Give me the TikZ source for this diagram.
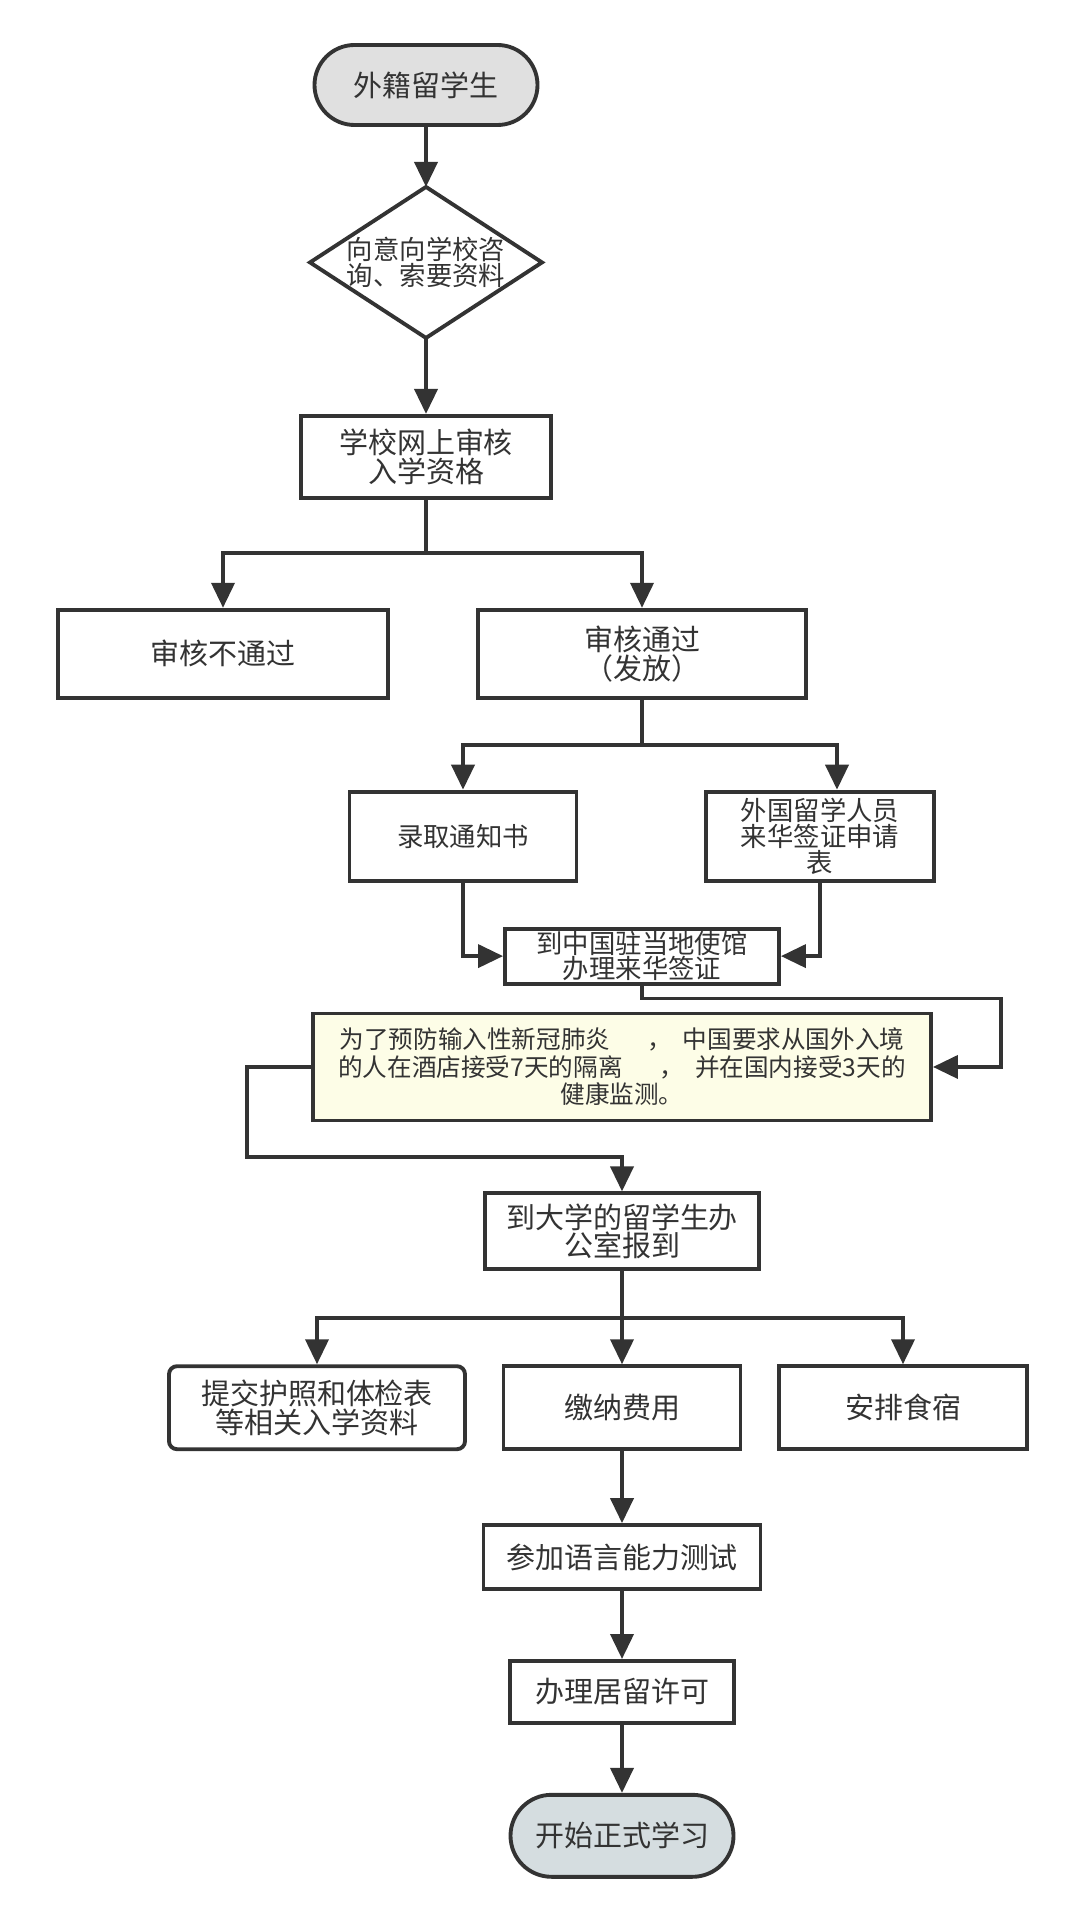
\documentclass[tikz,border=0pt]{standalone}
\usepackage{fontspec}
\setmainfont{Noto Sans CJK SC}
\usepackage{xcolor}
\usepackage{tikz}
\usetikzlibrary{arrows.meta, positioning}

\definecolor{linegray}{HTML}{333333}
\definecolor{startgray}{HTML}{E0E0E0}
\definecolor{endgray}{HTML}{D5DDE0}
\definecolor{noteyellow}{HTML}{FDFDE7}

\newcommand{\boxfont}{\fontsize{16.5pt}{16.4pt}\selectfont}
\newcommand{\formfont}{\fontsize{15pt}{14.8pt}\selectfont}
\newcommand{\visafont}{\fontsize{15pt}{14.2pt}\selectfont}
\newcommand{\notefont}{\fontsize{14pt}{15.6pt}\selectfont}

\begin{document}
\begin{tikzpicture}[
  box/.style={rectangle, draw=linegray, line width=2.2pt, fill=white, text=linegray,
              align=center, font=\boxfont, inner sep=2pt},
  terminal/.style={box, rounded corners=0.8cm, minimum width=4.46cm, minimum height=1.6cm},
  decision/.style={rectangle, minimum width=4.64cm, minimum height=3.02cm, inner sep=0pt,
              outer sep=0pt, text=linegray, align=center, font=\formfont},
  note/.style={box, fill=noteyellow, font=\notefont},
  link/.style={line width=2.2pt, draw=linegray},
  arrow/.style={link, -{Triangle[length=0.5cm, width=0.46cm]}}
]
\useasboundingbox (0,0) rectangle (21.62,-38.46);

\node[terminal, fill=startgray] (start) at (8.52,-1.70) {外籍留学生};
\node[decision, below=1.2cm of start] (ask) {向意向学校咨\\询、索要资料};
\draw[link] (ask.north) -- (ask.east) -- (ask.south) -- (ask.west) -- cycle;
\node[box, minimum width=5.0cm, minimum height=1.64cm, below=1.52cm of ask] (review) {学校网上审核\\入学资格};
\node[box, minimum width=6.6cm, minimum height=1.76cm, below=2.16cm of review, xshift=-4.06cm] (fail) {审核不通过};
\node[box, minimum width=6.56cm, minimum height=1.76cm, below=2.16cm of review, xshift=4.32cm] (pass) {审核通过\\（发放）};

\node[box, font=\formfont, minimum width=4.54cm, minimum height=1.78cm, below=1.8cm of pass, xshift=-3.58cm] (notice) {录取通知书};
\node[box, font=\formfont, minimum width=4.56cm, minimum height=1.78cm, below=1.8cm of pass, xshift=3.56cm] (form) {外国留学人员\\来华签证申请\\表};
\node[box, font=\visafont, inner sep=0pt, minimum width=5.48cm, minimum height=1.1cm, below=4.54cm of pass] (visa) {到中国驻当地使馆\\办理来华签证};

\node[note, minimum width=12.36cm, minimum height=2.14cm, below=0.52cm of visa, xshift=-0.4cm] (quarantine) {为了预防输入性新冠肺炎\hspace{1.5em}，\hspace{0.45em}中国要求从国外入境\\的人在酒店接受7天的隔离\hspace{1.5em}，\hspace{0.45em}并在国内接受3天的\\健康监测。};

\node[box, minimum width=5.48cm, minimum height=1.52cm, below=1.38cm of quarantine] (office) {到大学的留学生办\\公室报到};
\node[box, minimum width=4.74cm, minimum height=1.66cm, below=1.86cm of office] (fee) {缴纳费用};
\node[box, rounded corners=0.16cm, minimum width=5.92cm, minimum height=1.66cm, below=1.86cm of office, xshift=-6.1cm] (passport) {提交护照和体检表\\等相关入学资料};
\node[box, minimum width=4.96cm, minimum height=1.66cm, below=1.86cm of office, xshift=5.62cm] (lodging) {安排食宿};
\node[box, minimum width=5.54cm, minimum height=1.28cm, below=1.44cm of fee] (lang) {参加语言能力测试};
\node[box, minimum width=4.48cm, minimum height=1.24cm, below=1.36cm of lang] (permit) {办理居留许可};
\node[terminal, fill=endgray, rounded corners=0.82cm, minimum height=1.64cm, below=1.36cm of permit] (finish) {开始正式学习};

\coordinate[right=1.36cm of quarantine.east] (qin);
\coordinate[left=1.28cm of quarantine.west] (qout);

\draw[arrow] (start) -- (ask.north);
\draw[arrow] (ask.south) -- (review);
\draw[arrow] (review.south) -- ++(0,-1.06) -| (fail.north);
\draw[arrow] (review.south) -- ++(0,-1.06) -| (pass.north);
\draw[arrow] (pass.south) -- ++(0,-0.9) -| (notice.north);
\draw[arrow] (pass.south) -- ++(0,-0.9) -| ([xshift=0.34cm]form.north);
\draw[arrow] (notice.south) |- (visa.west);
\draw[arrow] (form.south) |- (visa.east);
\draw[arrow] (visa.south) -- ++(0,-0.26) -| (qin) -- (quarantine.east);
\draw[arrow] (quarantine.west) -- (qout) -- ++(0,-1.8) -| (office.north);
\draw[arrow] (office.south) -- (fee.north);
\draw[arrow] (office.south) -- ++(0,-0.94) -| (passport.north);
\draw[arrow] (office.south) -- ++(0,-0.94) -| (lodging.north);
\draw[arrow] (fee) -- (lang);
\draw[arrow] (lang) -- (permit);
\draw[arrow] (permit) -- (finish);

\end{tikzpicture}
\end{document}
